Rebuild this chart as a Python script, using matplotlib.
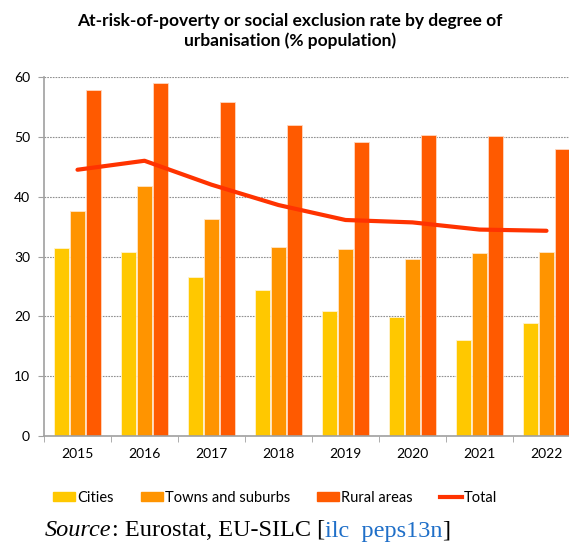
import matplotlib
matplotlib.use("Agg")
import matplotlib.pyplot as plt
import numpy as np
from matplotlib.patches import Patch
from matplotlib.lines import Line2D

# Data
years = ["2015", "2016", "2017", "2018", "2019", "2020", "2021", "2022"]
cities = [31.4, 30.8, 26.6, 24.4, 20.9, 19.9, 16.1, 18.9]
towns = [37.6, 41.7, 36.2, 31.6, 31.2, 29.5, 30.6, 30.8]
rural = [57.8, 59.0, 55.8, 51.9, 49.2, 50.3, 50.2, 47.9]
total = [44.5, 46.0, 42.0, 38.6, 36.1, 35.7, 34.5, 34.3]

c_cities = "#FFC800"
c_towns = "#FF9400"
c_rural = "#FF5A00"
c_total = "#FF3300"

plt.rcParams['font.family'] = ['Lato', 'DejaVu Sans']

fig = plt.figure(figsize=(5.69, 5.46), dpi=100)
ax = fig.add_axes([44 / 569, 110 / 546, 536 / 569, 359 / 546])

x = np.arange(len(years))
w = 0.21
off = 0.239
ax.bar(x - off, cities, w, color=c_cities, edgecolor="#FFF3D0", linewidth=0.6, zorder=2)
ax.bar(x, towns, w, color=c_towns, edgecolor="#FFE6C8", linewidth=0.6, zorder=2)
ax.bar(x + off, rural, w, color=c_rural, edgecolor="#FFD8C0", linewidth=0.6, zorder=2)
ax.plot(x, total, color=c_total, linewidth=3, solid_capstyle="round", zorder=3)

ax.set_xlim(-0.5, len(years) - 0.5)
ax.set_ylim(0, 60)
ax.set_yticks(range(0, 61, 10))
ax.yaxis.grid(True, linestyle=(0, (1.5, 1)), color="#909090", linewidth=0.8, zorder=0)
ax.set_axisbelow(True)

ax.set_xticks(x)
ax.set_xticklabels(years, fontsize=10)
ax.set_xticks(np.arange(-0.5, len(years)), minor=True)
ax.tick_params(axis="x", which="major", length=0, pad=9)
ax.tick_params(axis="x", which="minor", length=4, color="#A0A0A0", direction="out")
ax.tick_params(axis="y", length=4, color="#A0A0A0", labelsize=10, pad=6)

for s in ["top", "right"]:
    ax.spines[s].set_visible(False)
for s in ["left", "bottom"]:
    ax.spines[s].set_color("#A0A0A0")
    ax.spines[s].set_linewidth(1.2)

fig.text(0.51, 1 - 31 / 546, "At-risk-of-poverty or social exclusion rate by degree of\nurbanisation (% population)",
         ha="center", va="center", fontsize=12.5, fontweight="bold", linespacing=1.3)

handles = [Patch(color=c_cities), Patch(color=c_towns), Patch(color=c_rural),
           Line2D([0], [0], color=c_total, linewidth=3)]
labels = ["Cities", "Towns and suburbs", "Rural areas", "Total"]
fig.legend(handles, labels, loc="center", bbox_to_anchor=(0.484, 1 - 498 / 546), ncol=4,
           frameon=False, fontsize=10.5, handlelength=1.5, handleheight=0.6,
           handletextpad=0.15, columnspacing=1.85)

# Source line, built piece by piece
fig.canvas.draw()
r = fig.canvas.get_renderer()
xpos = 45
ypos = 1 - 531 / 546
pieces = [("Source", "italic", "black"), (": Eurostat, EU-SILC [", "normal", "black"),
          ("ilc  peps13n", "normal", "#1F6FC8"), ("]", "normal", "black")]
for txt, style, col in pieces:
    t = fig.text(xpos / 569, ypos, txt, fontsize=17.5, family="Liberation Serif",
                 style=style, color=col, va="center", ha="left")
    xpos += t.get_window_extent(renderer=r).width

fig.savefig("out.png", dpi=100)
